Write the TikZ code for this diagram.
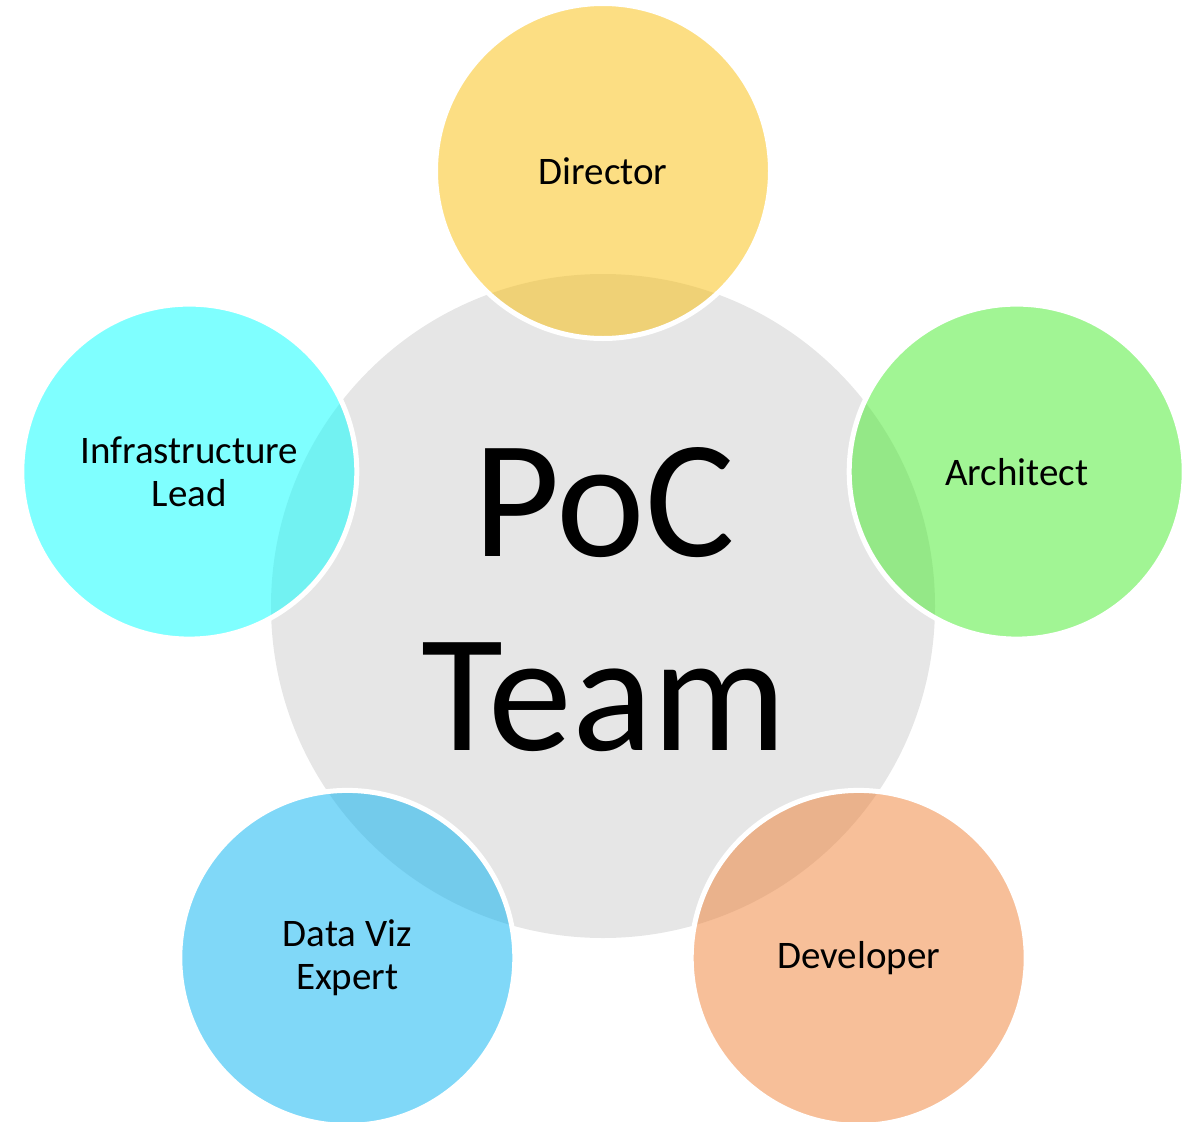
\documentclass[tikz,border=0pt]{standalone}
\usepackage{fontspec}
\setmainfont{Carlito}
\definecolor{hubgray}{HTML}{E6E6E6}
\definecolor{dircol}{RGB}{249,189,7}
\definecolor{archcol}{RGB}{67,235,41}
\definecolor{devcol}{RGB}{239,127,51}
\definecolor{vizcol}{RGB}{1,177,241}
\definecolor{infracol}{RGB}{0,255,255}
\begin{document}
\begin{tikzpicture}[x=1pt,y=-1pt,
  hub/.style={circle,fill=hubgray,minimum size=664pt,inner sep=0pt,draw=none},
  bigtext/.style={font=\fontsize{168}{194}\selectfont,align=center,inner sep=0pt,text=black},
  role/.style={circle,minimum size=335pt,inner sep=0pt,draw=white,line width=5pt,
    fill opacity=0.5,text opacity=1,text=black,
    font=\fontsize{39}{43}\selectfont,align=center}]
\useasboundingbox (0,0) rectangle (1192,1122);
\node[hub] (team) at (603,606) {};
\node[bigtext] (poc) at (604,600) {PoC\\Team};
\node[role,fill=dircol] (director) at (603,171) {Director};
\node[role,fill=archcol] (architect) at (1016.7,471.6) {Architect};
\node[role,fill=devcol] (developer) at (858.7,957.9) {Developer};
\node[role,fill=vizcol] (dataviz) at (347.3,957.9) {Data Viz\\Expert};
\node[role,fill=infracol] (infra) at (189.3,471.6) {Infrastructure\\Lead};
\end{tikzpicture}
\end{document}
